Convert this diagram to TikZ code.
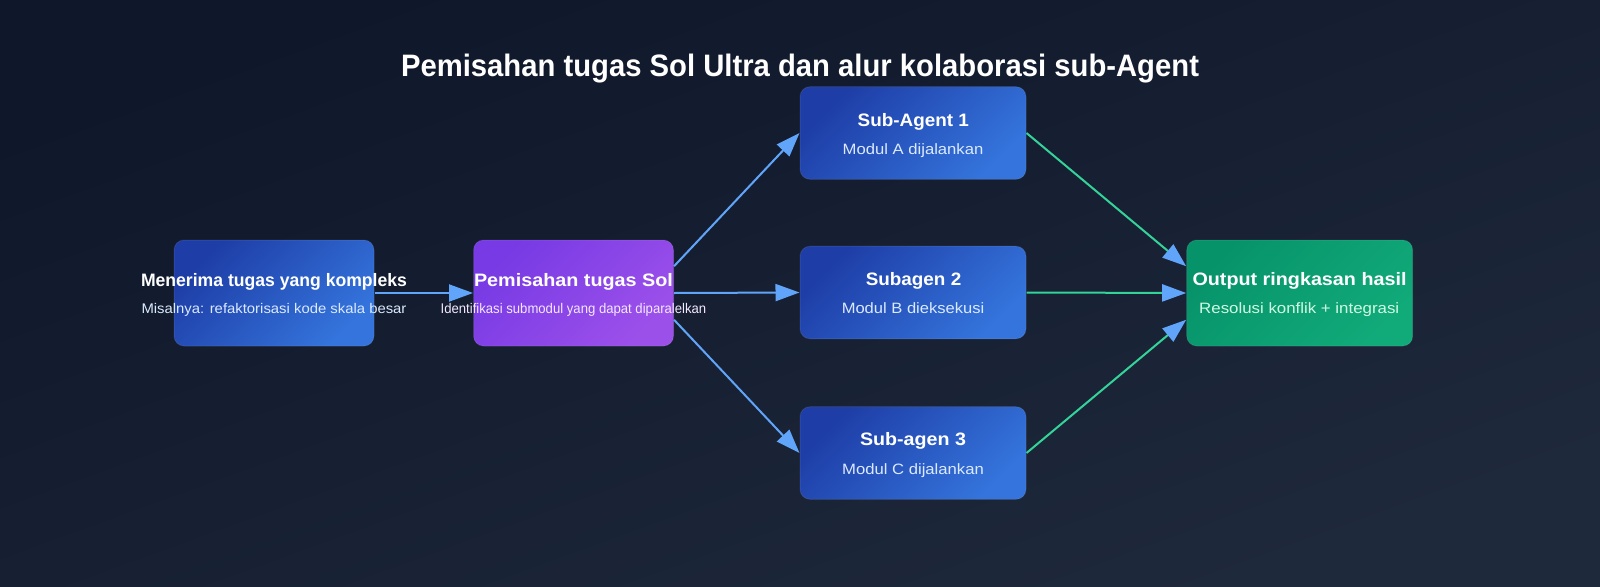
\documentclass[tikz,border=0pt]{standalone}
\usepackage{fontspec}
\setmainfont{Liberation Sans}
\usetikzlibrary{arrows.meta,calc}
\definecolor{bgA}{HTML}{0F172A}
\definecolor{bgB}{HTML}{1E293B}
\definecolor{blA}{HTML}{1E3DA6}
\definecolor{blB}{HTML}{3474DC}
\definecolor{puA}{HTML}{773AE4}
\definecolor{puB}{HTML}{9C50EA}
\definecolor{grA}{HTML}{07936A}
\definecolor{grB}{HTML}{11AA79}
\definecolor{arrBlue}{HTML}{60A5FA}
\definecolor{lnGreen}{HTML}{34D399}
\definecolor{subBlue}{HTML}{DBEAFE}
\definecolor{subPurple}{HTML}{F3E8FF}
\definecolor{subGreen}{HTML}{D1FAE5}
\newsavebox\fitbox
\newlength\fitlen
\newcommand\fitx[2]{\sbox\fitbox{#2}\setlength\fitlen{\wd\fitbox}\pgfmathsetmacro\fitr{#1/\fitlen}\scalebox{\fitr}[1]{\usebox\fitbox}}
\tikzset{
  boxbase/.style={rounded corners=10pt, draw=white, draw opacity=0.08, line width=1pt, inner sep=0pt},
  bluebox/.style={boxbase, top color=blA, bottom color=blB, shading angle=45, minimum width=226pt, minimum height=92.6pt},
  bigblue/.style={boxbase, top color=blA, bottom color=blB, shading angle=45, minimum width=200pt, minimum height=106pt},
  purplebox/.style={boxbase, top color=puA, bottom color=puB, shading angle=45, minimum width=200pt, minimum height=106pt},
  greenbox/.style={boxbase, top color=grA, bottom color=grB, shading angle=45, minimum width=226pt, minimum height=106pt},
  txt/.style={anchor=base, inner sep=0pt, text=white},
  maintxt/.style={txt, font=\bfseries\fontsize{18}{20}\selectfont},
  subtxt/.style={txt, font=\fontsize{15}{17}\selectfont},
  arr/.style={line width=2pt, draw=arrBlue, -{Triangle[length=24pt,width=17pt,color=arrBlue]}},
  garr/.style={line width=2pt, draw=lnGreen, -{Triangle[length=24pt,width=17pt,color=arrBlue]}}
}
\begin{document}
\begin{tikzpicture}[x=1pt,y=-1pt]
\useasboundingbox (0,0) rectangle (1600,586);
\shade[top color=bgA, bottom color=bgB, shading angle=20] (0,0) rectangle (1600,586);

% title
\node[txt, font=\bfseries\fontsize{31}{34}\selectfont] (title) at (800,76) {\fitx{798}{Pemisahan tugas Sol Ultra dan alur kolaborasi sub-Agent}};

% boxes
\node[bigblue] (b1) at (274,293) {};
\node[purplebox] (b2) at (573.5,293) {};
\node[bluebox] (s1) at (913,133) {};
\node[bluebox] (s2) at (913,292.5) {};
\node[bluebox] (s3) at (913,453) {};
\node[greenbox] (out) at (1299.7,293) {};

% connectors
\draw[arr] (b1.east) -- (b2.west);
\draw[arr] ($(b2.north east)!0.25!(b2.south east)$) -- (s1.west);
\draw[arr] (b2.east) -- (s2.west);
\draw[arr] ($(b2.north east)!0.75!(b2.south east)$) -- (s3.west);
\draw[garr] (s1.east) -- ($(out.north west)!0.25!(out.south west)$);
\draw[garr] (s2.east) -- (out.west);
\draw[garr] (s3.east) -- ($(out.north west)!0.75!(out.south west)$);

% texts
\node[maintxt] (t1a) at (274,286) {\fitx{266}{Menerima tugas yang kompleks}};
\node[subtxt, text=subBlue, font=\fontsize{14}{16}\selectfont] (t1b) at (274,313.3) {\fitx{265}{Misalnya: refaktorisasi kode skala besar}};
\node[maintxt] (t2a) at (573.5,286) {\fitx{199}{Pemisahan tugas Sol}};
\node[subtxt, text=subPurple, font=\fontsize{14}{16}\selectfont] (t2b) at (573.5,313.3) {\fitx{265.6}{Identifikasi submodul yang dapat diparalelkan}};
\node[maintxt] (t3a) at (913.3,126.7) {\fitx{111.3}{Sub-Agent 1}};
\node[subtxt, text=subBlue] (t3b) at (913,154) {\fitx{140.7}{Modul A dijalankan}};
\node[maintxt] (t4a) at (913.5,285.7) {\fitx{95.5}{Subagen 2}};
\node[subtxt, text=subBlue] (t4b) at (913,313.3) {\fitx{142.5}{Modul B dieksekusi}};
\node[maintxt] (t5a) at (913,445.7) {\fitx{106}{Sub-agen 3}};
\node[subtxt, text=subBlue] (t5b) at (913,474) {\fitx{141.7}{Modul C dijalankan}};
\node[maintxt] (t6a) at (1299.5,285.7) {\fitx{214}{Output ringkasan hasil}};
\node[subtxt, text=subGreen] (t6b) at (1299.2,313.3) {\fitx{200}{Resolusi konflik + integrasi}};
\end{tikzpicture}
\end{document}
